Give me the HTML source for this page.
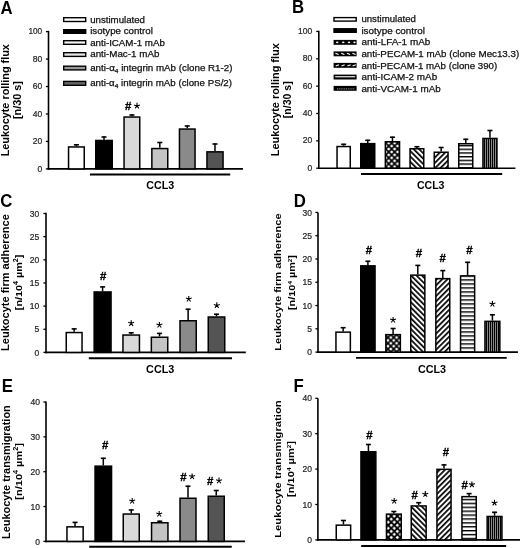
<!DOCTYPE html>
<html><head><meta charset="utf-8"><style>
html,body{margin:0;padding:0;background:#fff;width:520px;height:548px;overflow:hidden;}
svg{display:block;will-change:transform;font-family:"Liberation Sans", sans-serif;}
</style></head><body>
<svg width="520" height="548" viewBox="0 0 520 548" font-family='"Liberation Sans", sans-serif'>

<defs>
<pattern id="dots" patternUnits="userSpaceOnUse" width="5.9" height="5.9" x="388.7" y="143.1"><rect width="5.9" height="5.9" fill="#000"/><path d="M0,-1.75L1.75,0L0,1.75L-1.75,0ZM5.9,-1.75L7.65,0L5.9,1.75L4.15,0ZM0,4.15L1.75,5.9L0,7.65L-1.75,5.9ZM5.9,4.15L7.65,5.9L5.9,7.65L4.15,5.9ZM2.95,1.2000000000000002L4.7,2.95L2.95,4.7L1.2000000000000002,2.95Z" fill="#fff"/></pattern><pattern id="dotsD" patternUnits="userSpaceOnUse" width="5.8" height="5.8" x="390.8" y="337.5"><rect width="5.8" height="5.8" fill="#000"/><path d="M0,-1.75L1.75,0L0,1.75L-1.75,0ZM5.8,-1.75L7.55,0L5.8,1.75L4.05,0ZM0,4.05L1.75,5.8L0,7.55L-1.75,5.8ZM5.8,4.05L7.55,5.8L5.8,7.55L4.05,5.8ZM2.9,1.15L4.65,2.9L2.9,4.65L1.15,2.9Z" fill="#fff"/></pattern><pattern id="dotsF" patternUnits="userSpaceOnUse" width="6.1" height="6.1" x="388.2" y="516.1"><rect width="6.1" height="6.1" fill="#000"/><path d="M0,-1.75L1.75,0L0,1.75L-1.75,0ZM6.1,-1.75L7.85,0L6.1,1.75L4.35,0ZM0,4.35L1.75,6.1L0,7.85L-1.75,6.1ZM6.1,4.35L7.85,6.1L6.1,7.85L4.35,6.1ZM3.05,1.2999999999999998L4.8,3.05L3.05,4.8L1.2999999999999998,3.05Z" fill="#fff"/></pattern>
<pattern id="bs" patternUnits="userSpaceOnUse" width="3.8" height="3.8" patternTransform="rotate(-45)">
 <rect width="3.8" height="3.8" fill="#fff"/>
 <rect width="1.7" height="3.8" fill="#000"/>
</pattern>
<pattern id="fs" patternUnits="userSpaceOnUse" width="3.8" height="3.8" patternTransform="rotate(45)">
 <rect width="3.8" height="3.8" fill="#fff"/>
 <rect width="1.7" height="3.8" fill="#000"/>
</pattern>
<pattern id="hs" patternUnits="userSpaceOnUse" width="4" height="3.7" y="148.6">
 <rect width="4" height="3.7" fill="#fff"/>
 <rect width="4" height="1.4" fill="#000"/>
</pattern>
<pattern id="hsD" patternUnits="userSpaceOnUse" width="4" height="4.0" y="279.26">
 <rect width="4" height="4" fill="#fff"/>
 <rect width="4" height="1.4" fill="#000"/>
</pattern>
<pattern id="hsF" patternUnits="userSpaceOnUse" width="4" height="3.9" y="498.8">
 <rect width="4" height="3.9" fill="#fff"/>
 <rect width="4" height="1.4" fill="#000"/>
</pattern>
<pattern id="vs" patternUnits="userSpaceOnUse" width="2" height="4">
 <rect width="2" height="4" fill="#000"/>
 <rect x="1.2" width="0.8" height="4" fill="#aaa"/>
</pattern>
</defs>

<rect width="520" height="548" fill="#fff"/>
<text transform="translate(0.6,13.6) scale(0.91,1)" font-size="18.4" font-weight="bold">A</text>
<text transform="translate(291.9,12.7) scale(0.91,1)" font-size="18.4" font-weight="bold">B</text>
<text transform="translate(0.2,207.4) scale(0.91,1)" font-size="18.4" font-weight="bold">C</text>
<text transform="translate(293.7,207.0) scale(0.91,1)" font-size="18.4" font-weight="bold">D</text>
<text transform="translate(1.8,391.5) scale(0.91,1)" font-size="18.4" font-weight="bold">E</text>
<text transform="translate(293.5,391.5) scale(0.91,1)" font-size="18.4" font-weight="bold">F</text>
<line x1="48.5" y1="30.8" x2="48.5" y2="169.70000000000002" stroke="#000" stroke-width="1.6"/>
<line x1="47.7" y1="168.9" x2="243" y2="168.9" stroke="#000" stroke-width="1.6"/>
<line x1="45.9" y1="168.9" x2="48.5" y2="168.9" stroke="#000" stroke-width="1.3"/>
<text x="42.2" y="171.70000000000002" font-size="8.5" font-weight="normal" text-anchor="end" fill="#222" stroke="#222" stroke-width="0.2">0</text>
<line x1="45.9" y1="141.44" x2="48.5" y2="141.44" stroke="#000" stroke-width="1.3"/>
<text x="42.2" y="144.24" font-size="8.5" font-weight="normal" text-anchor="end" fill="#222" stroke="#222" stroke-width="0.2">20</text>
<line x1="45.9" y1="113.98" x2="48.5" y2="113.98" stroke="#000" stroke-width="1.3"/>
<text x="42.2" y="116.78" font-size="8.5" font-weight="normal" text-anchor="end" fill="#222" stroke="#222" stroke-width="0.2">40</text>
<line x1="45.9" y1="86.52000000000001" x2="48.5" y2="86.52000000000001" stroke="#000" stroke-width="1.3"/>
<text x="42.2" y="89.32000000000001" font-size="8.5" font-weight="normal" text-anchor="end" fill="#222" stroke="#222" stroke-width="0.2">60</text>
<line x1="45.9" y1="59.06" x2="48.5" y2="59.06" stroke="#000" stroke-width="1.3"/>
<text x="42.2" y="61.86" font-size="8.5" font-weight="normal" text-anchor="end" fill="#222" stroke="#222" stroke-width="0.2">80</text>
<line x1="45.9" y1="31.599999999999994" x2="48.5" y2="31.599999999999994" stroke="#000" stroke-width="1.3"/>
<text x="42.2" y="34.39999999999999" font-size="8.5" font-weight="normal" text-anchor="end" fill="#222" textLength="13.8" lengthAdjust="spacingAndGlyphs" stroke="#222" stroke-width="0.2">100</text>
<line x1="76.4" y1="146.2" x2="76.4" y2="144.3" stroke="#000" stroke-width="1.5"/>
<line x1="73.9" y1="144.8" x2="78.9" y2="144.8" stroke="#000" stroke-width="1.6"/>
<rect x="68.55" y="146.95" width="15.700000000000003" height="21.950000000000017" fill="#fff" stroke="#000" stroke-width="1.5"/>
<line x1="104.0" y1="139.7" x2="104.0" y2="136.5" stroke="#000" stroke-width="1.5"/>
<line x1="101.5" y1="137.0" x2="106.5" y2="137.0" stroke="#000" stroke-width="1.6"/>
<rect x="95.75" y="140.45" width="16.5" height="28.450000000000017" fill="#000" stroke="#000" stroke-width="1.5"/>
<line x1="131.9" y1="116.3" x2="131.9" y2="114.5" stroke="#000" stroke-width="1.5"/>
<line x1="129.4" y1="115.0" x2="134.4" y2="115.0" stroke="#000" stroke-width="1.6"/>
<rect x="124.05" y="117.05" width="15.700000000000003" height="51.85000000000001" fill="#d9d9d9" stroke="#000" stroke-width="1.5"/>
<line x1="159.8" y1="147.8" x2="159.8" y2="142" stroke="#000" stroke-width="1.5"/>
<line x1="157.3" y1="142.5" x2="162.3" y2="142.5" stroke="#000" stroke-width="1.6"/>
<rect x="151.85" y="148.55" width="15.900000000000006" height="20.349999999999994" fill="#c4c4c4" stroke="#000" stroke-width="1.5"/>
<line x1="187.25" y1="128.3" x2="187.25" y2="125.5" stroke="#000" stroke-width="1.5"/>
<line x1="184.75" y1="126.0" x2="189.75" y2="126.0" stroke="#000" stroke-width="1.6"/>
<rect x="179.45" y="129.05" width="15.600000000000023" height="39.849999999999994" fill="#8a8a8a" stroke="#000" stroke-width="1.5"/>
<line x1="215.0" y1="151.1" x2="215.0" y2="143.5" stroke="#000" stroke-width="1.5"/>
<line x1="212.5" y1="144.0" x2="217.5" y2="144.0" stroke="#000" stroke-width="1.6"/>
<rect x="206.95" y="151.85" width="16.100000000000023" height="17.05000000000001" fill="#545454" stroke="#000" stroke-width="1.5"/>
<text x="128.2" y="110.29" font-size="11.4" font-weight="bold" text-anchor="middle" fill="#000" stroke="#000" stroke-width="0.35">#</text>
<path d="M137.00,105.90L137.00,102.80M137.00,105.90L139.95,104.94M137.00,105.90L138.82,108.41M137.00,105.90L135.18,108.41M137.00,105.90L134.05,104.94" stroke="#000" stroke-width="1.1" fill="none"/>
<line x1="90" y1="174.5" x2="230.2" y2="174.5" stroke="#000" stroke-width="1.9"/>
<text x="146.2" y="188.7" font-size="10.5" font-weight="bold" text-anchor="start" fill="#000" textLength="28" lengthAdjust="spacingAndGlyphs">CCL3</text>
<text transform="translate(9.0,100.2) rotate(-90)" font-size="10.5" font-weight="bold" text-anchor="middle" fill="#000" textLength="112.2" lengthAdjust="spacingAndGlyphs">Leukocyte rolling flux</text>
<text transform="translate(21.1,100.12) rotate(-90)" font-size="10.2" font-weight="bold" text-anchor="middle" fill="#000" textLength="37.95" lengthAdjust="spacingAndGlyphs">[n/30 s]</text>
<rect x="63.7" y="17.7" width="22.0" height="3.7999999999999994" fill="#fff" stroke="#000" stroke-width="1.4"/>
<text x="90.2" y="22.6" font-size="9" font-weight="normal" text-anchor="start" fill="#111" textLength="54.8" lengthAdjust="spacingAndGlyphs" stroke="#111" stroke-width="0.25">unstimulated</text>
<rect x="63.7" y="29.7" width="22.0" height="3.6" fill="#000" stroke="#000" stroke-width="1.4"/>
<text x="90.2" y="34.2" font-size="9" font-weight="normal" text-anchor="start" fill="#111" textLength="62.6" lengthAdjust="spacingAndGlyphs" stroke="#111" stroke-width="0.25">isotype control</text>
<rect x="63.7" y="40.7" width="22.0" height="3.6" fill="#f6f6f6" stroke="#000" stroke-width="1.4"/>
<text x="90.2" y="45.5" font-size="9" font-weight="normal" text-anchor="start" fill="#111" textLength="74.7" lengthAdjust="spacingAndGlyphs" stroke="#111" stroke-width="0.25">anti-ICAM-1 mAb</text>
<rect x="63.7" y="52.7" width="22.0" height="3.7000000000000015" fill="#e6e6e6" stroke="#000" stroke-width="1.4"/>
<text x="90.2" y="57.1" font-size="9" font-weight="normal" text-anchor="start" fill="#111" textLength="69.2" lengthAdjust="spacingAndGlyphs" stroke="#111" stroke-width="0.25">anti-Mac-1 mAb</text>
<rect x="63.7" y="66.2" width="22.0" height="3.6999999999999944" fill="#9a9a9a" stroke="#000" stroke-width="1.4"/>
<text x="90.2" y="70.6" font-size="9" font-weight="normal" text-anchor="start" fill="#111" textLength="142.3" lengthAdjust="spacingAndGlyphs" stroke="#111" stroke-width="0.25">anti-&#945;<tspan font-size="6" dy="2.2">4</tspan><tspan dy="-2.2"> integrin mAb (clone R1-2)</tspan></text>
<rect x="63.7" y="81.4" width="22.0" height="3.8999999999999972" fill="#666666" stroke="#000" stroke-width="1.4"/>
<text x="90.2" y="86.2" font-size="9" font-weight="normal" text-anchor="start" fill="#111" textLength="141.8" lengthAdjust="spacingAndGlyphs" stroke="#111" stroke-width="0.25">anti-&#945;<tspan font-size="6" dy="2.2">4</tspan><tspan dy="-2.2"> integrin mAb (clone PS/2)</tspan></text>
<line x1="318.8" y1="30.8" x2="318.8" y2="169.0" stroke="#000" stroke-width="1.6"/>
<line x1="318.0" y1="168.2" x2="515.4" y2="168.2" stroke="#000" stroke-width="1.6"/>
<line x1="316.2" y1="168.2" x2="318.8" y2="168.2" stroke="#000" stroke-width="1.3"/>
<text x="312.3" y="170.7" font-size="8.5" font-weight="normal" text-anchor="end" fill="#222" stroke="#222" stroke-width="0.2">0</text>
<line x1="316.2" y1="140.85" x2="318.8" y2="140.85" stroke="#000" stroke-width="1.3"/>
<text x="312.3" y="143.35" font-size="8.5" font-weight="normal" text-anchor="end" fill="#222" stroke="#222" stroke-width="0.2">20</text>
<line x1="316.2" y1="113.49999999999999" x2="318.8" y2="113.49999999999999" stroke="#000" stroke-width="1.3"/>
<text x="312.3" y="115.99999999999999" font-size="8.5" font-weight="normal" text-anchor="end" fill="#222" stroke="#222" stroke-width="0.2">40</text>
<line x1="316.2" y1="86.14999999999998" x2="318.8" y2="86.14999999999998" stroke="#000" stroke-width="1.3"/>
<text x="312.3" y="88.64999999999998" font-size="8.5" font-weight="normal" text-anchor="end" fill="#222" stroke="#222" stroke-width="0.2">60</text>
<line x1="316.2" y1="58.79999999999998" x2="318.8" y2="58.79999999999998" stroke="#000" stroke-width="1.3"/>
<text x="312.3" y="61.29999999999998" font-size="8.5" font-weight="normal" text-anchor="end" fill="#222" stroke="#222" stroke-width="0.2">80</text>
<line x1="316.2" y1="31.44999999999999" x2="318.8" y2="31.44999999999999" stroke="#000" stroke-width="1.3"/>
<text x="312.3" y="33.94999999999999" font-size="8.5" font-weight="normal" text-anchor="end" fill="#222" textLength="14.2" lengthAdjust="spacingAndGlyphs" stroke="#222" stroke-width="0.2">100</text>
<line x1="343.65" y1="145.8" x2="343.65" y2="143.8" stroke="#000" stroke-width="1.5"/>
<line x1="341.15" y1="144.3" x2="346.15" y2="144.3" stroke="#000" stroke-width="1.6"/>
<rect x="337.05" y="146.55" width="13.199999999999989" height="21.649999999999977" fill="#fff" stroke="#000" stroke-width="1.5"/>
<line x1="367.75" y1="142.9" x2="367.75" y2="139.8" stroke="#000" stroke-width="1.5"/>
<line x1="365.25" y1="140.3" x2="370.25" y2="140.3" stroke="#000" stroke-width="1.6"/>
<rect x="360.75" y="143.65" width="14.0" height="24.549999999999983" fill="#000" stroke="#000" stroke-width="1.5"/>
<line x1="392.45000000000005" y1="141" x2="392.45000000000005" y2="136.7" stroke="#000" stroke-width="1.5"/>
<line x1="389.95000000000005" y1="137.2" x2="394.95000000000005" y2="137.2" stroke="#000" stroke-width="1.6"/>
<rect x="385.35" y="141.75" width="14.199999999999989" height="26.44999999999999" fill="url(#dots)" stroke="#000" stroke-width="1.5"/>
<line x1="416.9" y1="148" x2="416.9" y2="146.2" stroke="#000" stroke-width="1.5"/>
<line x1="414.4" y1="146.7" x2="419.4" y2="146.7" stroke="#000" stroke-width="1.6"/>
<rect x="410.05" y="148.75" width="13.699999999999989" height="19.44999999999999" fill="url(#bs)" stroke="#000" stroke-width="1.5"/>
<line x1="441.15" y1="151.5" x2="441.15" y2="147" stroke="#000" stroke-width="1.5"/>
<line x1="438.65" y1="147.5" x2="443.65" y2="147.5" stroke="#000" stroke-width="1.6"/>
<rect x="434.25" y="152.25" width="13.800000000000011" height="15.949999999999989" fill="url(#fs)" stroke="#000" stroke-width="1.5"/>
<line x1="465.75" y1="143" x2="465.75" y2="138.8" stroke="#000" stroke-width="1.5"/>
<line x1="463.25" y1="139.3" x2="468.25" y2="139.3" stroke="#000" stroke-width="1.6"/>
<rect x="458.75" y="143.75" width="14.0" height="24.44999999999999" fill="url(#hs)" stroke="#000" stroke-width="1.5"/>
<line x1="489.95" y1="137.7" x2="489.95" y2="130" stroke="#000" stroke-width="1.5"/>
<line x1="487.45" y1="130.5" x2="492.45" y2="130.5" stroke="#000" stroke-width="1.6"/>
<rect x="482.95" y="138.45" width="14.0" height="29.75" fill="url(#vs)" stroke="#000" stroke-width="1.5"/>
<line x1="361" y1="174" x2="502.2" y2="174" stroke="#000" stroke-width="2"/>
<text x="416.9" y="189.0" font-size="10.6" font-weight="bold" text-anchor="start" fill="#000" textLength="27.6" lengthAdjust="spacingAndGlyphs">CCL3</text>
<text transform="translate(279.2,99.7) rotate(-90)" font-size="10.5" font-weight="bold" text-anchor="middle" fill="#000" textLength="113.0" lengthAdjust="spacingAndGlyphs">Leukocyte rolling flux</text>
<text transform="translate(290.9,99.73) rotate(-90)" font-size="10.2" font-weight="bold" text-anchor="middle" fill="#000" textLength="36.85" lengthAdjust="spacingAndGlyphs">[n/30 s]</text>
<rect x="334.0" y="17.599999999999998" width="22.2" height="3.500000000000002" fill="#fff" stroke="#000" stroke-width="1.4"/>
<text x="361.4" y="22.3" font-size="9" font-weight="normal" text-anchor="start" fill="#111" textLength="54.5" lengthAdjust="spacingAndGlyphs" stroke="#111" stroke-width="0.25">unstimulated</text>
<rect x="334.0" y="28.8" width="22.2" height="3.4999999999999987" fill="#000" stroke="#000" stroke-width="1.4"/>
<text x="361.4" y="33.8" font-size="9" font-weight="normal" text-anchor="start" fill="#111" textLength="63.6" lengthAdjust="spacingAndGlyphs" stroke="#111" stroke-width="0.25">isotype control</text>
<rect x="333.6" y="39.9" width="23" height="4.899999999999999" fill="#000"/>
<ellipse cx="337.25" cy="42.349999999999994" rx="1.25" ry="0.9" fill="#fff"/>
<ellipse cx="343.25" cy="42.349999999999994" rx="1.25" ry="0.9" fill="#fff"/>
<ellipse cx="349" cy="42.349999999999994" rx="1.25" ry="0.9" fill="#fff"/>
<ellipse cx="354.5" cy="42.349999999999994" rx="1.25" ry="0.9" fill="#fff"/>
<text x="361.4" y="45.4" font-size="9" font-weight="normal" text-anchor="start" fill="#111" textLength="68.9" lengthAdjust="spacingAndGlyphs" stroke="#111" stroke-width="0.25">anti-LFA-1 mAb</text>
<rect x="333.6" y="51.4" width="23" height="4.899999999999999" fill="#000"/>
<line x1="335.4" y1="53.24999999999999" x2="338.6" y2="54.449999999999996" stroke="#fff" stroke-width="1.2"/>
<line x1="341.15" y1="53.24999999999999" x2="344.35" y2="54.449999999999996" stroke="#fff" stroke-width="1.2"/>
<line x1="346.9" y1="53.24999999999999" x2="350.1" y2="54.449999999999996" stroke="#fff" stroke-width="1.2"/>
<line x1="352.4" y1="53.24999999999999" x2="355.6" y2="54.449999999999996" stroke="#fff" stroke-width="1.2"/>
<text x="361.4" y="56.9" font-size="9" font-weight="normal" text-anchor="start" fill="#111" textLength="157.8" lengthAdjust="spacingAndGlyphs" stroke="#111" stroke-width="0.25">anti-PECAM-1 mAb (clone Mec13.3)</text>
<rect x="333.6" y="62.9" width="23" height="4.899999999999999" fill="#000"/>
<line x1="335.7" y1="65.94999999999999" x2="338.90000000000003" y2="64.75" stroke="#fff" stroke-width="1.2"/>
<line x1="341.5" y1="65.94999999999999" x2="344.70000000000005" y2="64.75" stroke="#fff" stroke-width="1.2"/>
<line x1="347.4" y1="65.94999999999999" x2="350.6" y2="64.75" stroke="#fff" stroke-width="1.2"/>
<line x1="352.59999999999997" y1="65.94999999999999" x2="355.8" y2="64.75" stroke="#fff" stroke-width="1.2"/>
<text x="361.4" y="68.5" font-size="9" font-weight="normal" text-anchor="start" fill="#111" textLength="135.8" lengthAdjust="spacingAndGlyphs" stroke="#111" stroke-width="0.25">anti-PECAM-1 mAb (clone 390)</text>
<rect x="333.6" y="74.6" width="23" height="4.900000000000006" fill="#000"/>
<rect x="335.2" y="76.19999999999999" width="20" height="1.1" fill="#fff"/>
<text x="361.4" y="80" font-size="9" font-weight="normal" text-anchor="start" fill="#111" textLength="75.8" lengthAdjust="spacingAndGlyphs" stroke="#111" stroke-width="0.25">anti-ICAM-2 mAb</text>
<rect x="333.6" y="85.9" width="23" height="4.8999999999999915" fill="#000"/>
<line x1="337" y1="88.89999999999999" x2="354.5" y2="88.89999999999999" stroke="#aaa" stroke-width="1" stroke-dasharray="1,0.8"/>
<text x="361.4" y="91.5" font-size="9" font-weight="normal" text-anchor="start" fill="#111" textLength="79.3" lengthAdjust="spacingAndGlyphs" stroke="#111" stroke-width="0.25">anti-VCAM-1 mAb</text>
<line x1="46" y1="212.8" x2="46" y2="353.2" stroke="#000" stroke-width="1.6"/>
<line x1="45.2" y1="352.4" x2="245.8" y2="352.4" stroke="#000" stroke-width="1.6"/>
<line x1="43.4" y1="352.4" x2="46" y2="352.4" stroke="#000" stroke-width="1.3"/>
<text x="39.2" y="355.5" font-size="8.5" font-weight="normal" text-anchor="end" fill="#222" stroke="#222" stroke-width="0.2">0</text>
<line x1="43.4" y1="329.25" x2="46" y2="329.25" stroke="#000" stroke-width="1.3"/>
<text x="39.2" y="332.35" font-size="8.5" font-weight="normal" text-anchor="end" fill="#222" stroke="#222" stroke-width="0.2">5</text>
<line x1="43.4" y1="306.09999999999997" x2="46" y2="306.09999999999997" stroke="#000" stroke-width="1.3"/>
<text x="39.2" y="309.2" font-size="8.5" font-weight="normal" text-anchor="end" fill="#222" stroke="#222" stroke-width="0.2">10</text>
<line x1="43.4" y1="282.95" x2="46" y2="282.95" stroke="#000" stroke-width="1.3"/>
<text x="39.2" y="286.05" font-size="8.5" font-weight="normal" text-anchor="end" fill="#222" stroke="#222" stroke-width="0.2">15</text>
<line x1="43.4" y1="259.79999999999995" x2="46" y2="259.79999999999995" stroke="#000" stroke-width="1.3"/>
<text x="39.2" y="262.9" font-size="8.5" font-weight="normal" text-anchor="end" fill="#222" stroke="#222" stroke-width="0.2">20</text>
<line x1="43.4" y1="236.64999999999998" x2="46" y2="236.64999999999998" stroke="#000" stroke-width="1.3"/>
<text x="39.2" y="239.74999999999997" font-size="8.5" font-weight="normal" text-anchor="end" fill="#222" stroke="#222" stroke-width="0.2">25</text>
<line x1="43.4" y1="213.5" x2="46" y2="213.5" stroke="#000" stroke-width="1.3"/>
<text x="39.2" y="216.6" font-size="8.5" font-weight="normal" text-anchor="end" fill="#222" stroke="#222" stroke-width="0.2">30</text>
<line x1="74.15" y1="331.8" x2="74.15" y2="328.4" stroke="#000" stroke-width="1.5"/>
<line x1="71.65" y1="328.9" x2="76.65" y2="328.9" stroke="#000" stroke-width="1.6"/>
<rect x="66.25" y="332.55" width="15.799999999999997" height="19.849999999999966" fill="#fff" stroke="#000" stroke-width="1.5"/>
<line x1="102.6" y1="291.2" x2="102.6" y2="286.4" stroke="#000" stroke-width="1.5"/>
<line x1="100.1" y1="286.9" x2="105.1" y2="286.9" stroke="#000" stroke-width="1.6"/>
<rect x="94.15" y="291.95" width="16.89999999999999" height="60.44999999999999" fill="#000" stroke="#000" stroke-width="1.5"/>
<line x1="131.2" y1="334.3" x2="131.2" y2="332.3" stroke="#000" stroke-width="1.5"/>
<line x1="128.7" y1="332.8" x2="133.7" y2="332.8" stroke="#000" stroke-width="1.6"/>
<rect x="122.95" y="335.05" width="16.499999999999986" height="17.349999999999966" fill="#d9d9d9" stroke="#000" stroke-width="1.5"/>
<line x1="159.55" y1="336.5" x2="159.55" y2="332.9" stroke="#000" stroke-width="1.5"/>
<line x1="157.05" y1="333.4" x2="162.05" y2="333.4" stroke="#000" stroke-width="1.6"/>
<rect x="151.35" y="337.25" width="16.400000000000006" height="15.149999999999977" fill="#c4c4c4" stroke="#000" stroke-width="1.5"/>
<line x1="188.125" y1="320" x2="188.125" y2="308.75" stroke="#000" stroke-width="1.5"/>
<line x1="185.625" y1="309.25" x2="190.625" y2="309.25" stroke="#000" stroke-width="1.6"/>
<rect x="180.0" y="320.75" width="16.25" height="31.649999999999977" fill="#8a8a8a" stroke="#000" stroke-width="1.5"/>
<line x1="216.5" y1="316.25" x2="216.5" y2="313.75" stroke="#000" stroke-width="1.5"/>
<line x1="214.0" y1="314.25" x2="219.0" y2="314.25" stroke="#000" stroke-width="1.6"/>
<rect x="208.25" y="317.0" width="16.5" height="35.39999999999998" fill="#545454" stroke="#000" stroke-width="1.5"/>
<text x="103.1" y="279.89" font-size="11.4" font-weight="bold" text-anchor="middle" fill="#000" stroke="#000" stroke-width="0.35">#</text>
<path d="M131.20,323.30L131.20,320.20M131.20,323.30L134.15,322.34M131.20,323.30L133.02,325.81M131.20,323.30L129.38,325.81M131.20,323.30L128.25,322.34" stroke="#000" stroke-width="1.1" fill="none"/>
<path d="M159.40,325.00L159.40,321.90M159.40,325.00L162.35,324.04M159.40,325.00L161.22,327.51M159.40,325.00L157.58,327.51M159.40,325.00L156.45,324.04" stroke="#000" stroke-width="1.1" fill="none"/>
<path d="M188.80,299.00L188.80,295.90M188.80,299.00L191.75,298.04M188.80,299.00L190.62,301.51M188.80,299.00L186.98,301.51M188.80,299.00L185.85,298.04" stroke="#000" stroke-width="1.1" fill="none"/>
<path d="M216.80,305.40L216.80,302.30M216.80,305.40L219.75,304.44M216.80,305.40L218.62,307.91M216.80,305.40L214.98,307.91M216.80,305.40L213.85,304.44" stroke="#000" stroke-width="1.1" fill="none"/>
<line x1="88.8" y1="358.2" x2="232" y2="358.2" stroke="#000" stroke-width="1.9"/>
<text x="146.1" y="373.0" font-size="10.6" font-weight="bold" text-anchor="start" fill="#000" textLength="28.2" lengthAdjust="spacingAndGlyphs">CCL3</text>
<text transform="translate(8.8,282.6) rotate(-90)" font-size="10.2" font-weight="bold" text-anchor="middle" fill="#000" textLength="136.8" lengthAdjust="spacingAndGlyphs">Leukocyte firm adherence</text>
<text transform="translate(22.0,282.4) rotate(-90)" font-size="9.8" font-weight="bold" text-anchor="middle" fill="#000" textLength="55.6" lengthAdjust="spacingAndGlyphs">[n/10<tspan font-size="6.5" dy="-4">4</tspan><tspan dy="4"> &#181;m</tspan><tspan font-size="6.5" dy="-4">2</tspan><tspan dy="4">]</tspan></text>
<line x1="318" y1="212.4" x2="318" y2="352.90000000000003" stroke="#000" stroke-width="1.6"/>
<line x1="317.2" y1="352.1" x2="517.9" y2="352.1" stroke="#000" stroke-width="1.6"/>
<line x1="315.4" y1="352.1" x2="318" y2="352.1" stroke="#000" stroke-width="1.3"/>
<text x="312" y="355.20000000000005" font-size="8.5" font-weight="normal" text-anchor="end" fill="#222" stroke="#222" stroke-width="0.2">0</text>
<line x1="315.4" y1="328.82000000000005" x2="318" y2="328.82000000000005" stroke="#000" stroke-width="1.3"/>
<text x="312" y="331.9200000000001" font-size="8.5" font-weight="normal" text-anchor="end" fill="#222" stroke="#222" stroke-width="0.2">5</text>
<line x1="315.4" y1="305.54" x2="318" y2="305.54" stroke="#000" stroke-width="1.3"/>
<text x="312" y="308.64000000000004" font-size="8.5" font-weight="normal" text-anchor="end" fill="#222" stroke="#222" stroke-width="0.2">10</text>
<line x1="315.4" y1="282.26" x2="318" y2="282.26" stroke="#000" stroke-width="1.3"/>
<text x="312" y="285.36" font-size="8.5" font-weight="normal" text-anchor="end" fill="#222" stroke="#222" stroke-width="0.2">15</text>
<line x1="315.4" y1="258.98" x2="318" y2="258.98" stroke="#000" stroke-width="1.3"/>
<text x="312" y="262.08000000000004" font-size="8.5" font-weight="normal" text-anchor="end" fill="#222" stroke="#222" stroke-width="0.2">20</text>
<line x1="315.4" y1="235.70000000000002" x2="318" y2="235.70000000000002" stroke="#000" stroke-width="1.3"/>
<text x="312" y="238.8" font-size="8.5" font-weight="normal" text-anchor="end" fill="#222" stroke="#222" stroke-width="0.2">25</text>
<line x1="315.4" y1="212.42000000000002" x2="318" y2="212.42000000000002" stroke="#000" stroke-width="1.3"/>
<text x="312" y="215.52" font-size="8.5" font-weight="normal" text-anchor="end" fill="#222" stroke="#222" stroke-width="0.2">30</text>
<line x1="343.15" y1="331.4" x2="343.15" y2="327.2" stroke="#000" stroke-width="1.5"/>
<line x1="340.65" y1="327.7" x2="345.65" y2="327.7" stroke="#000" stroke-width="1.6"/>
<rect x="335.95" y="332.15" width="14.400000000000034" height="19.950000000000045" fill="#fff" stroke="#000" stroke-width="1.5"/>
<line x1="367.9" y1="265.1" x2="367.9" y2="260.8" stroke="#000" stroke-width="1.5"/>
<line x1="365.4" y1="261.3" x2="370.4" y2="261.3" stroke="#000" stroke-width="1.6"/>
<rect x="360.75" y="265.85" width="14.300000000000011" height="86.25" fill="#000" stroke="#000" stroke-width="1.5"/>
<line x1="393.1" y1="333.9" x2="393.1" y2="328" stroke="#000" stroke-width="1.5"/>
<line x1="390.6" y1="328.5" x2="395.6" y2="328.5" stroke="#000" stroke-width="1.6"/>
<rect x="385.85" y="334.65" width="14.5" height="17.450000000000045" fill="url(#dotsD)" stroke="#000" stroke-width="1.5"/>
<line x1="417.8" y1="274.4" x2="417.8" y2="264.9" stroke="#000" stroke-width="1.5"/>
<line x1="415.3" y1="265.4" x2="420.3" y2="265.4" stroke="#000" stroke-width="1.6"/>
<rect x="410.75" y="275.15" width="14.100000000000023" height="76.95000000000005" fill="url(#bs)" stroke="#000" stroke-width="1.5"/>
<line x1="442.8" y1="277.9" x2="442.8" y2="270.1" stroke="#000" stroke-width="1.5"/>
<line x1="440.3" y1="270.6" x2="445.3" y2="270.6" stroke="#000" stroke-width="1.6"/>
<rect x="435.85" y="278.65" width="13.899999999999977" height="73.45000000000005" fill="url(#fs)" stroke="#000" stroke-width="1.5"/>
<line x1="467.6" y1="275.1" x2="467.6" y2="261.8" stroke="#000" stroke-width="1.5"/>
<line x1="465.1" y1="262.3" x2="470.1" y2="262.3" stroke="#000" stroke-width="1.6"/>
<rect x="460.55" y="275.85" width="14.099999999999966" height="76.25" fill="url(#hsD)" stroke="#000" stroke-width="1.5"/>
<line x1="492.4" y1="320.6" x2="492.4" y2="314.3" stroke="#000" stroke-width="1.5"/>
<line x1="489.9" y1="314.8" x2="494.9" y2="314.8" stroke="#000" stroke-width="1.6"/>
<rect x="484.95" y="321.35" width="14.900000000000034" height="30.75" fill="url(#vs)" stroke="#000" stroke-width="1.5"/>
<text x="369" y="253.79000000000002" font-size="11.4" font-weight="bold" text-anchor="middle" fill="#000" stroke="#000" stroke-width="0.35">#</text>
<path d="M393.10,320.00L393.10,316.90M393.10,320.00L396.05,319.04M393.10,320.00L394.92,322.51M393.10,320.00L391.28,322.51M393.10,320.00L390.15,319.04" stroke="#000" stroke-width="1.1" fill="none"/>
<text x="418.9" y="256.89" font-size="11.4" font-weight="bold" text-anchor="middle" fill="#000" stroke="#000" stroke-width="0.35">#</text>
<text x="442.7" y="261.99" font-size="11.4" font-weight="bold" text-anchor="middle" fill="#000" stroke="#000" stroke-width="0.35">#</text>
<text x="469.3" y="253.59" font-size="11.4" font-weight="bold" text-anchor="middle" fill="#000" stroke="#000" stroke-width="0.35">#</text>
<path d="M492.40,304.00L492.40,300.90M492.40,304.00L495.35,303.04M492.40,304.00L494.22,306.51M492.40,304.00L490.58,306.51M492.40,304.00L489.45,303.04" stroke="#000" stroke-width="1.1" fill="none"/>
<line x1="356" y1="357.9" x2="506.7" y2="357.9" stroke="#000" stroke-width="1.9"/>
<text x="417.9" y="372.6" font-size="10.6" font-weight="bold" text-anchor="start" fill="#000" textLength="28.2" lengthAdjust="spacingAndGlyphs">CCL3</text>
<text transform="translate(281.4,282.1) rotate(-90)" font-size="9.5" font-weight="bold" text-anchor="middle" fill="#000" textLength="137.4" lengthAdjust="spacingAndGlyphs">Leukocyte firm adherence</text>
<text transform="translate(294.8,282.5) rotate(-90)" font-size="9.5" font-weight="bold" text-anchor="middle" fill="#000" textLength="55.0" lengthAdjust="spacingAndGlyphs">[n/10<tspan font-size="5.5" dy="-3">4</tspan><tspan dy="3"> &#181;m</tspan><tspan font-size="5.5" dy="-3">2</tspan><tspan dy="3">]</tspan></text>
<line x1="46" y1="401.5" x2="46" y2="542.1999999999999" stroke="#000" stroke-width="1.6"/>
<line x1="45.2" y1="541.4" x2="245" y2="541.4" stroke="#000" stroke-width="1.6"/>
<line x1="43.4" y1="541.4" x2="46" y2="541.4" stroke="#000" stroke-width="1.3"/>
<text x="39.9" y="544.5" font-size="8.5" font-weight="normal" text-anchor="end" fill="#222" stroke="#222" stroke-width="0.2">0</text>
<line x1="43.4" y1="506.54999999999995" x2="46" y2="506.54999999999995" stroke="#000" stroke-width="1.3"/>
<text x="39.9" y="509.65" font-size="8.5" font-weight="normal" text-anchor="end" fill="#222" stroke="#222" stroke-width="0.2">10</text>
<line x1="43.4" y1="471.7" x2="46" y2="471.7" stroke="#000" stroke-width="1.3"/>
<text x="39.9" y="474.8" font-size="8.5" font-weight="normal" text-anchor="end" fill="#222" stroke="#222" stroke-width="0.2">20</text>
<line x1="43.4" y1="436.84999999999997" x2="46" y2="436.84999999999997" stroke="#000" stroke-width="1.3"/>
<text x="39.9" y="439.95" font-size="8.5" font-weight="normal" text-anchor="end" fill="#222" stroke="#222" stroke-width="0.2">30</text>
<line x1="43.4" y1="402.0" x2="46" y2="402.0" stroke="#000" stroke-width="1.3"/>
<text x="39.9" y="405.1" font-size="8.5" font-weight="normal" text-anchor="end" fill="#222" stroke="#222" stroke-width="0.2">40</text>
<line x1="75.05000000000001" y1="526.1" x2="75.05000000000001" y2="521.9" stroke="#000" stroke-width="1.5"/>
<line x1="72.55000000000001" y1="522.4" x2="77.55000000000001" y2="522.4" stroke="#000" stroke-width="1.6"/>
<rect x="66.95" y="526.85" width="16.200000000000003" height="14.549999999999955" fill="#fff" stroke="#000" stroke-width="1.5"/>
<line x1="103.3" y1="465.4" x2="103.3" y2="457.8" stroke="#000" stroke-width="1.5"/>
<line x1="100.8" y1="458.3" x2="105.8" y2="458.3" stroke="#000" stroke-width="1.6"/>
<rect x="95.05" y="466.15" width="16.5" height="75.25" fill="#000" stroke="#000" stroke-width="1.5"/>
<line x1="131.25" y1="513.3" x2="131.25" y2="509.5" stroke="#000" stroke-width="1.5"/>
<line x1="128.75" y1="510.0" x2="133.75" y2="510.0" stroke="#000" stroke-width="1.6"/>
<rect x="123.25" y="514.05" width="16.0" height="27.350000000000023" fill="#d9d9d9" stroke="#000" stroke-width="1.5"/>
<line x1="159.75" y1="522" x2="159.75" y2="520.75" stroke="#000" stroke-width="1.5"/>
<line x1="157.25" y1="521.25" x2="162.25" y2="521.25" stroke="#000" stroke-width="1.6"/>
<rect x="151.55" y="522.75" width="16.399999999999977" height="18.649999999999977" fill="#c4c4c4" stroke="#000" stroke-width="1.5"/>
<line x1="188.0" y1="497.5" x2="188.0" y2="485.75" stroke="#000" stroke-width="1.5"/>
<line x1="185.5" y1="486.25" x2="190.5" y2="486.25" stroke="#000" stroke-width="1.6"/>
<rect x="180.0" y="498.25" width="16.0" height="43.14999999999998" fill="#8a8a8a" stroke="#000" stroke-width="1.5"/>
<line x1="216.25" y1="495.5" x2="216.25" y2="490" stroke="#000" stroke-width="1.5"/>
<line x1="213.75" y1="490.5" x2="218.75" y2="490.5" stroke="#000" stroke-width="1.6"/>
<rect x="208.25" y="496.25" width="16.0" height="45.14999999999998" fill="#545454" stroke="#000" stroke-width="1.5"/>
<text x="105.1" y="449.49" font-size="11.4" font-weight="bold" text-anchor="middle" fill="#000" stroke="#000" stroke-width="0.35">#</text>
<path d="M132.20,501.00L132.20,497.90M132.20,501.00L135.15,500.04M132.20,501.00L134.02,503.51M132.20,501.00L130.38,503.51M132.20,501.00L129.25,500.04" stroke="#000" stroke-width="1.1" fill="none"/>
<path d="M159.20,514.00L159.20,510.90M159.20,514.00L162.15,513.04M159.20,514.00L161.02,516.51M159.20,514.00L157.38,516.51M159.20,514.00L156.25,513.04" stroke="#000" stroke-width="1.1" fill="none"/>
<text x="183.29999999999998" y="480.89" font-size="11.4" font-weight="bold" text-anchor="middle" fill="#000" stroke="#000" stroke-width="0.35">#</text>
<path d="M192.10,476.50L192.10,473.40M192.10,476.50L195.05,475.54M192.10,476.50L193.92,479.01M192.10,476.50L190.28,479.01M192.10,476.50L189.15,475.54" stroke="#000" stroke-width="1.1" fill="none"/>
<text x="210.2" y="485.09" font-size="11.4" font-weight="bold" text-anchor="middle" fill="#000" stroke="#000" stroke-width="0.35">#</text>
<path d="M219.00,480.70L219.00,477.60M219.00,480.70L221.95,479.74M219.00,480.70L220.82,483.21M219.00,480.70L217.18,483.21M219.00,480.70L216.05,479.74" stroke="#000" stroke-width="1.1" fill="none"/>
<line x1="89.2" y1="546.8" x2="231.75" y2="546.8" stroke="#000" stroke-width="2"/>
<text transform="translate(9.5,472.1) rotate(-90)" font-size="10.0" font-weight="bold" text-anchor="middle" fill="#000" textLength="133.7" lengthAdjust="spacingAndGlyphs">Leukocyte transmigration</text>
<text transform="translate(21.8,471.35) rotate(-90)" font-size="9.8" font-weight="bold" text-anchor="middle" fill="#000" textLength="56.6" lengthAdjust="spacingAndGlyphs">[n/10<tspan font-size="6.5" dy="-4">4</tspan><tspan dy="4"> &#181;m</tspan><tspan font-size="6.5" dy="-4">2</tspan><tspan dy="4">]</tspan></text>
<line x1="317.9" y1="398.2" x2="317.9" y2="540.6999999999999" stroke="#000" stroke-width="1.6"/>
<line x1="317.09999999999997" y1="539.9" x2="520" y2="539.9" stroke="#000" stroke-width="1.6"/>
<line x1="315.29999999999995" y1="539.9" x2="317.9" y2="539.9" stroke="#000" stroke-width="1.3"/>
<text x="312" y="543.0" font-size="8.5" font-weight="normal" text-anchor="end" fill="#222" stroke="#222" stroke-width="0.2">0</text>
<line x1="315.29999999999995" y1="504.5" x2="317.9" y2="504.5" stroke="#000" stroke-width="1.3"/>
<text x="312" y="507.6" font-size="8.5" font-weight="normal" text-anchor="end" fill="#222" stroke="#222" stroke-width="0.2">10</text>
<line x1="315.29999999999995" y1="469.09999999999997" x2="317.9" y2="469.09999999999997" stroke="#000" stroke-width="1.3"/>
<text x="312" y="472.2" font-size="8.5" font-weight="normal" text-anchor="end" fill="#222" stroke="#222" stroke-width="0.2">20</text>
<line x1="315.29999999999995" y1="433.7" x2="317.9" y2="433.7" stroke="#000" stroke-width="1.3"/>
<text x="312" y="436.8" font-size="8.5" font-weight="normal" text-anchor="end" fill="#222" stroke="#222" stroke-width="0.2">30</text>
<line x1="315.29999999999995" y1="398.29999999999995" x2="317.9" y2="398.29999999999995" stroke="#000" stroke-width="1.3"/>
<text x="312" y="401.4" font-size="8.5" font-weight="normal" text-anchor="end" fill="#222" stroke="#222" stroke-width="0.2">40</text>
<line x1="343.45" y1="524.4" x2="343.45" y2="520" stroke="#000" stroke-width="1.5"/>
<line x1="340.95" y1="520.5" x2="345.95" y2="520.5" stroke="#000" stroke-width="1.6"/>
<rect x="336.25" y="525.15" width="14.399999999999977" height="14.75" fill="#fff" stroke="#000" stroke-width="1.5"/>
<line x1="368.4" y1="451" x2="368.4" y2="444" stroke="#000" stroke-width="1.5"/>
<line x1="365.9" y1="444.5" x2="370.9" y2="444.5" stroke="#000" stroke-width="1.6"/>
<rect x="360.95" y="451.75" width="14.900000000000034" height="88.14999999999998" fill="#000" stroke="#000" stroke-width="1.5"/>
<line x1="393.85" y1="513.4" x2="393.85" y2="511" stroke="#000" stroke-width="1.5"/>
<line x1="391.35" y1="511.5" x2="396.35" y2="511.5" stroke="#000" stroke-width="1.6"/>
<rect x="386.45" y="514.15" width="14.800000000000011" height="25.75" fill="url(#dotsF)" stroke="#000" stroke-width="1.5"/>
<line x1="418.7" y1="505.2" x2="418.7" y2="502.2" stroke="#000" stroke-width="1.5"/>
<line x1="416.2" y1="502.7" x2="421.2" y2="502.7" stroke="#000" stroke-width="1.6"/>
<rect x="411.25" y="505.95" width="14.899999999999977" height="33.94999999999999" fill="url(#bs)" stroke="#000" stroke-width="1.5"/>
<line x1="444.0" y1="468.6" x2="444.0" y2="464.4" stroke="#000" stroke-width="1.5"/>
<line x1="441.5" y1="464.9" x2="446.5" y2="464.9" stroke="#000" stroke-width="1.6"/>
<rect x="436.95" y="469.35" width="14.100000000000023" height="70.54999999999995" fill="url(#fs)" stroke="#000" stroke-width="1.5"/>
<line x1="469.1" y1="495.9" x2="469.1" y2="493.1" stroke="#000" stroke-width="1.5"/>
<line x1="466.6" y1="493.6" x2="471.6" y2="493.6" stroke="#000" stroke-width="1.6"/>
<rect x="461.95" y="496.65" width="14.300000000000011" height="43.25" fill="url(#hsF)" stroke="#000" stroke-width="1.5"/>
<line x1="494.54999999999995" y1="515.7" x2="494.54999999999995" y2="511.8" stroke="#000" stroke-width="1.5"/>
<line x1="492.04999999999995" y1="512.3" x2="497.04999999999995" y2="512.3" stroke="#000" stroke-width="1.6"/>
<rect x="487.15" y="516.45" width="14.800000000000011" height="23.449999999999932" fill="url(#vs)" stroke="#000" stroke-width="1.5"/>
<text x="369.3" y="439.39" font-size="11.4" font-weight="bold" text-anchor="middle" fill="#000" stroke="#000" stroke-width="0.35">#</text>
<path d="M394.20,501.00L394.20,497.90M394.20,501.00L397.15,500.04M394.20,501.00L396.02,503.51M394.20,501.00L392.38,503.51M394.20,501.00L391.25,500.04" stroke="#000" stroke-width="1.1" fill="none"/>
<text x="414.59999999999997" y="498.99" font-size="11.4" font-weight="bold" text-anchor="middle" fill="#000" stroke="#000" stroke-width="0.35">#</text>
<path d="M425.30,494.20L425.30,491.10M425.30,494.20L428.25,493.24M425.30,494.20L427.12,496.71M425.30,494.20L423.48,496.71M425.30,494.20L422.35,493.24" stroke="#000" stroke-width="1.1" fill="none"/>
<text x="445.9" y="455.79" font-size="11.4" font-weight="bold" text-anchor="middle" fill="#000" stroke="#000" stroke-width="0.35">#</text>
<text x="464.7" y="488.89" font-size="11.4" font-weight="bold" text-anchor="middle" fill="#000" stroke="#000" stroke-width="0.35">#</text>
<path d="M471.90,484.60L471.90,481.50M471.90,484.60L474.85,483.64M471.90,484.60L473.72,487.11M471.90,484.60L470.08,487.11M471.90,484.60L468.95,483.64" stroke="#000" stroke-width="1.1" fill="none"/>
<path d="M494.50,502.90L494.50,499.80M494.50,502.90L497.45,501.94M494.50,502.90L496.32,505.41M494.50,502.90L492.68,505.41M494.50,502.90L491.55,501.94" stroke="#000" stroke-width="1.1" fill="none"/>
<line x1="361.2" y1="546" x2="506.2" y2="546" stroke="#000" stroke-width="2"/>
<text transform="translate(281.1,469.1) rotate(-90)" font-size="9.5" font-weight="bold" text-anchor="middle" fill="#000" textLength="137.4" lengthAdjust="spacingAndGlyphs">Leukocyte transmigration</text>
<text transform="translate(293.8,469.0) rotate(-90)" font-size="9.5" font-weight="bold" text-anchor="middle" fill="#000" textLength="56.0" lengthAdjust="spacingAndGlyphs">[n/10<tspan font-size="5.5" dy="-3">4</tspan><tspan dy="3"> &#181;m</tspan><tspan font-size="5.5" dy="-3">2</tspan><tspan dy="3">]</tspan></text>
</svg>
</body></html>
